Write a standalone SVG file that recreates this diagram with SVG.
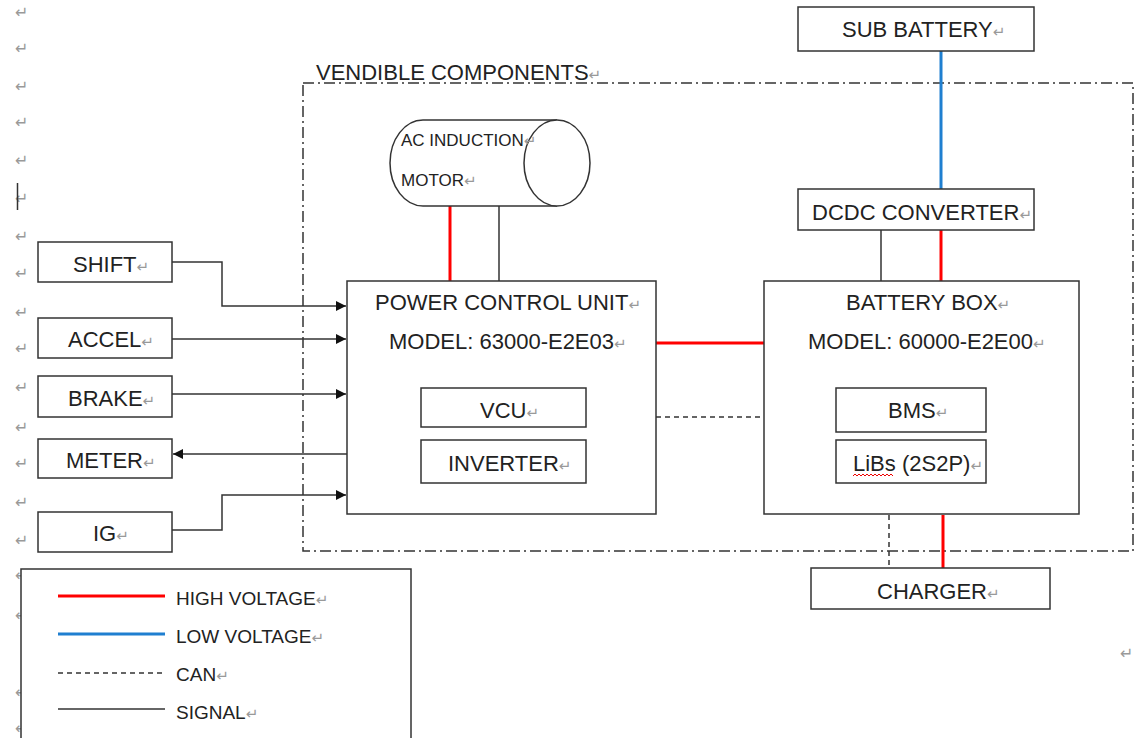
<svg xmlns="http://www.w3.org/2000/svg" width="1143" height="738" viewBox="0 0 1143 738">
<style>
.box{fill:#fff;stroke:#333;stroke-width:1.5}
.t{font-family:"Liberation Sans",Arial,sans-serif;font-size:22px;fill:#222}
.tl{font-family:"Liberation Sans",Arial,sans-serif;font-size:19px;fill:#222}
.tm{font-family:"Liberation Sans",Arial,sans-serif;font-size:17px;fill:#222}
.pm{fill:#999;font-family:"DejaVu Sans",sans-serif;font-size:15px}
.pmark{fill:#999;font-family:"DejaVu Sans",sans-serif;font-size:16px}
.hv{stroke:#f00;stroke-width:3;fill:none}
.lv{stroke:#1f7fd0;stroke-width:3;fill:none}
.sig{stroke:#333;stroke-width:1.5;fill:none}
.can{stroke:#333;stroke-width:1.5;fill:none;stroke-dasharray:5 4}
.dd{stroke:#333;stroke-width:1.5;fill:none;stroke-dasharray:11 4 2 4}
</style>
<defs>
<marker id="arr" viewBox="0 0 10 10" refX="10" refY="5" markerWidth="10" markerHeight="10" markerUnits="userSpaceOnUse" orient="auto">
<path d="M0,0 L10,5 L0,10 z" fill="#111"/>
</marker>
</defs>
<rect width="1143" height="738" fill="#fff"/>

<g id="margin-marks">
<text class="pmark" x="15" y="18">↵</text>
<text class="pmark" x="15" y="54">↵</text>
<text class="pmark" x="15" y="92">↵</text>
<text class="pmark" x="15" y="128">↵</text>
<text class="pmark" x="15" y="166">↵</text>
<text class="pmark" x="15" y="204">↵</text>
<text class="pmark" x="15" y="242">↵</text>
<text class="pmark" x="15" y="279">↵</text>
<text class="pmark" x="15" y="318">↵</text>
<text class="pmark" x="15" y="354">↵</text>
<text class="pmark" x="15" y="393">↵</text>
<text class="pmark" x="15" y="433">↵</text>
<text class="pmark" x="15" y="469">↵</text>
<text class="pmark" x="15" y="508">↵</text>
<text class="pmark" x="15" y="546">↵</text>
<text class="pmark" x="15" y="581">↵</text>
<text class="pmark" x="15" y="621">↵</text>
<text class="pmark" x="15" y="698">↵</text>
<text class="pmark" x="15" y="734">↵</text>
<text class="pmark" x="1120" y="659">↵</text>
<text class="pmark" x="360" y="384">↵</text>
<line x1="17.5" y1="183" x2="17.5" y2="210" stroke="#333" stroke-width="1.5"/>
</g>

<g id="vendible">
<rect x="303" y="83" width="830" height="468" class="dd"/>
<text class="t" x="316" y="80">VENDIBLE COMPONENTS<tspan class="pm">↵</tspan></text>
</g>

<g id="connectors">
<line x1="450" y1="206" x2="450" y2="281" class="hv"/>
<line x1="499" y1="206" x2="499" y2="281" class="sig"/>
<line x1="656" y1="343" x2="764" y2="343" class="hv"/>
<line x1="656" y1="417" x2="764" y2="417" class="can"/>
<line x1="941" y1="51" x2="941" y2="189" class="lv"/>
<line x1="881" y1="230" x2="881" y2="281" class="sig"/>
<line x1="941" y1="230" x2="941" y2="281" class="hv"/>
<line x1="889" y1="515" x2="889" y2="568" class="can"/>
<line x1="943" y1="515" x2="943" y2="568" class="hv"/>
<polyline points="172,262 222,262 222,306 346,306" class="sig" marker-end="url(#arr)"/>
<line x1="172" y1="339" x2="346" y2="339" class="sig" marker-end="url(#arr)"/>
<line x1="172" y1="394" x2="346" y2="394" class="sig" marker-end="url(#arr)"/>
<line x1="347" y1="454" x2="173" y2="454" class="sig" marker-end="url(#arr)"/>
<polyline points="172,530 222,530 222,495 346,495" class="sig" marker-end="url(#arr)"/>
</g>

<g id="motor">
<path d="M557,120 H423 A33,43 0 0 0 423,206 H557" class="box"/>
<ellipse cx="557" cy="163" rx="33" ry="43" class="box"/>
<text class="tm" x="401" y="146">AC INDUCTION<tspan class="pm">↵</tspan></text>
<text class="tm" x="401" y="186">MOTOR<tspan class="pm">↵</tspan></text>
</g>

<g id="pcu">
<rect x="347" y="281" width="309" height="233" class="box"/>
<text class="t" x="375" y="310">POWER CONTROL UNIT<tspan class="pm">↵</tspan></text>
<text class="t" x="389" y="349">MODEL: 63000-E2E03<tspan class="pm">↵</tspan></text>
</g>
<g id="vcu">
<rect x="421" y="388" width="165" height="39" class="box"/>
<text class="t" x="480" y="418">VCU<tspan class="pm">↵</tspan></text>
</g>
<g id="inverter">
<rect x="421" y="440" width="165" height="43" class="box"/>
<text class="t" x="448" y="471">INVERTER<tspan class="pm">↵</tspan></text>
</g>

<g id="battery-box">
<rect x="764" y="281" width="315" height="233" class="box"/>
<text class="t" x="846" y="310">BATTERY BOX<tspan class="pm">↵</tspan></text>
<text class="t" x="808" y="349">MODEL: 60000-E2E00<tspan class="pm">↵</tspan></text>
</g>
<g id="bms">
<rect x="836" y="388" width="150" height="44" class="box"/>
<text class="t" x="888" y="418">BMS<tspan class="pm">↵</tspan></text>
</g>
<g id="libs">
<rect x="836" y="440" width="150" height="43" class="box"/>
<text class="t" x="853" y="471">LiBs (2S2P)<tspan class="pm">↵</tspan></text>
<path d="M853,476 l2,-2 l2,2 l2,-2 l2,2 l2,-2 l2,2 l2,-2 l2,2 l2,-2 l2,2 l2,-2 l2,2 l2,-2 l2,2 l2,-2 l2,2 l2,-2 l2,2 l2,-2 l2,2" stroke="#e00" stroke-width="1" fill="none"/>
</g>

<g id="sub-battery">
<rect x="798" y="7" width="236" height="44" class="box"/>
<text class="t" x="842" y="37">SUB BATTERY<tspan class="pm">↵</tspan></text>
</g>
<g id="dcdc">
<rect x="798" y="189" width="236" height="41" class="box"/>
<text class="t" x="812" y="220">DCDC CONVERTER<tspan class="pm">↵</tspan></text>
</g>
<g id="charger">
<rect x="811" y="568" width="239" height="41" class="box"/>
<text class="t" x="877" y="599">CHARGER<tspan class="pm">↵</tspan></text>
</g>

<g id="shift">
<rect x="38" y="242" width="134" height="40" class="box"/>
<text class="t" x="73" y="272">SHIFT<tspan class="pm">↵</tspan></text>
</g>
<g id="accel">
<rect x="38" y="318" width="134" height="40" class="box"/>
<text class="t" x="68" y="347">ACCEL<tspan class="pm">↵</tspan></text>
</g>
<g id="brake">
<rect x="38" y="376" width="134" height="41" class="box"/>
<text class="t" x="68" y="406">BRAKE<tspan class="pm">↵</tspan></text>
</g>
<g id="meter">
<rect x="38" y="439" width="134" height="39" class="box"/>
<text class="t" x="66" y="468">METER<tspan class="pm">↵</tspan></text>
</g>
<g id="ig">
<rect x="38" y="512" width="134" height="40" class="box"/>
<text class="t" x="93" y="541">IG<tspan class="pm">↵</tspan></text>
</g>

<g id="legend">
<rect x="21" y="569" width="390" height="180" class="box"/>
<line x1="58" y1="596" x2="165" y2="596" class="hv"/>
<line x1="58" y1="634" x2="165" y2="634" class="lv"/>
<line x1="58" y1="673" x2="165" y2="673" class="can"/>
<line x1="58" y1="709" x2="165" y2="709" class="sig"/>
<text class="tl" x="176" y="605">HIGH VOLTAGE<tspan class="pm">↵</tspan></text>
<text class="tl" x="176" y="643">LOW VOLTAGE<tspan class="pm">↵</tspan></text>
<text class="tl" x="176" y="681">CAN<tspan class="pm">↵</tspan></text>
<text class="tl" x="176" y="719">SIGNAL<tspan class="pm">↵</tspan></text>
</g>
</svg>
